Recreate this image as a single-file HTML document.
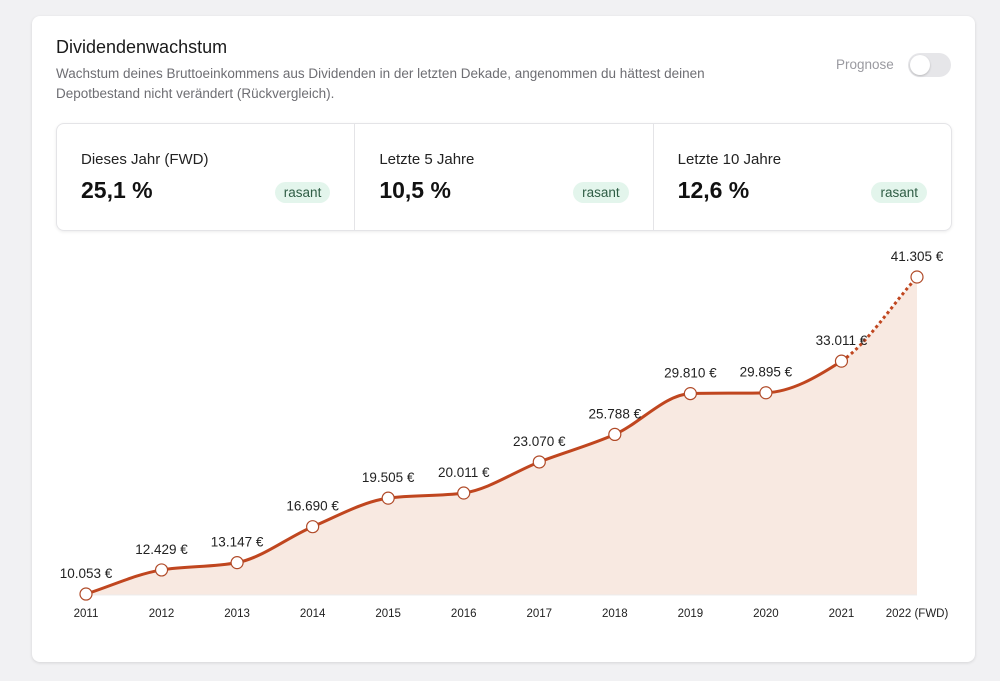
<!DOCTYPE html>
<html><head><meta charset="utf-8"><style>
body{margin:0;width:1000px;height:681px;background:#f1f1f3;font-family:"Liberation Sans",sans-serif;position:relative;overflow:hidden}
.card{position:absolute;left:32px;top:16px;width:943px;height:646px;background:#fff;border-radius:8px;box-shadow:0 1px 3px rgba(0,0,0,.12)}
.title{position:absolute;left:24px;top:21px;font-size:18px;color:#1a1a1a}
.sub{position:absolute;left:24px;top:48px;width:730px;font-size:13.5px;line-height:20px;color:#6e6e73}
.prog{position:absolute;left:804px;top:41px;font-size:13.5px;color:#9a9aa0}
.toggle{position:absolute;left:876px;top:37px;width:43px;height:24px;border-radius:12px;background:#e6e6e9}
.knob{position:absolute;left:2px;top:2px;width:20px;height:20px;border-radius:10px;background:#fff;box-shadow:0 1px 2px rgba(0,0,0,.2)}
.stats{position:absolute;left:24px;top:107px;width:894px;height:106px;border:1px solid #e4e4e7;border-radius:8px;box-shadow:0 1px 3px rgba(0,0,0,.08);display:flex}
.st{flex:1;position:relative;border-right:1px solid #e4e4e7}
.st:last-child{border-right:none}
.lab{position:absolute;left:24px;top:27px;font-size:15px;color:#222}
.val{position:absolute;left:24px;top:53px;font-size:23px;font-weight:bold;color:#111}
.badge{position:absolute;right:24px;top:58px;padding:3px 9px;border-radius:11px;background:#e3f5ec;color:#2f5d45;font-size:13.5px}
svg{position:absolute;left:0;top:0}
</style></head><body>
<div class="card">
<div class="title">Dividendenwachstum</div>
<div class="sub">Wachstum deines Bruttoeinkommens aus Dividenden in der letzten Dekade, angenommen du hättest deinen Depotbestand nicht verändert (Rückvergleich).</div>
<div class="prog">Prognose</div>
<div class="toggle"><div class="knob"></div></div>
<div class="stats">
<div class="st"><div class="lab">Dieses Jahr (FWD)</div><div class="val">25,1 %</div><div class="badge">rasant</div></div>
<div class="st"><div class="lab">Letzte 5 Jahre</div><div class="val">10,5 %</div><div class="badge">rasant</div></div>
<div class="st"><div class="lab">Letzte 10 Jahre</div><div class="val">12,6 %</div><div class="badge">rasant</div></div>
</div>
</div>
<svg id="chart" width="1000" height="681"></svg>
<script>
const categories=["2011","2012","2013","2014","2015","2016","2017","2018","2019","2020","2021","2022 (FWD)"];
const values=[10053,12429,13147,16690,19505,20011,23070,25788,29810,29895,33011,41305];
const valueLabels=["10.053 €","12.429 €","13.147 €","16.690 €","19.505 €","20.011 €","23.070 €","25.788 €","29.810 €","29.895 €","33.011 €","41.305 €"];
const NS="http://www.w3.org/2000/svg";
const svg=document.getElementById('chart');
const x0=86,x1=917,base=595;
const xs=i=>x0+(x1-x0)*i/(categories.length-1);
const ys=v=>696-v*0.010144;
function mk(t,a){const e=document.createElementNS(NS,t);for(const k in a)e.setAttribute(k,a[k]);svg.appendChild(e);return e;}
const P=values.map((v,i)=>[xs(i),ys(v)]);
const n=P.length,d=[],m=[];
for(let i=0;i<n-1;i++)d.push((P[i+1][1]-P[i][1])/(P[i+1][0]-P[i][0]));
for(let i=0;i<n;i++){if(i==0)m.push(d[0]);else if(i==n-1)m.push(d[n-2]);else m.push(d[i-1]*d[i]<=0?0:(3*(d[i-1]+d[i])/2)/(2+(d[i]/d[i-1]+d[i-1]/d[i])/2));}
function seg(i){const h=(P[i+1][0]-P[i][0])/3;return `C${P[i][0]+h},${P[i][1]+m[i]*h} ${P[i+1][0]-h},${P[i+1][1]-m[i+1]*h} ${P[i+1][0]},${P[i+1][1]}`;}
let solid=`M${P[0][0]},${P[0][1]}`;for(let i=0;i<n-2;i++)solid+=seg(i);
const dashed=`M${P[n-2][0]},${P[n-2][1]}`+seg(n-2);
let area=`M${P[0][0]},${base}L${P[0][0]},${P[0][1]}`;for(let i=0;i<n-1;i++)area+=seg(i);area+=`L${P[n-1][0]},${base}Z`;
const ar=mk('path',{d:area,fill:'#f8e9e1'});


const ax=mk('line',{x1:x0,x2:x1,y1:base,y2:base,stroke:'#ececec'});


const sl=mk('path',{d:solid,fill:'none',stroke:'#c0461f','stroke-width':3});


const dl=mk('path',{d:dashed,fill:'none',stroke:'#c0461f','stroke-width':3,'stroke-dasharray':'3 3'});


P.forEach((p,i)=>{
 const c=mk('circle',{cx:p[0],cy:p[1],r:6,fill:'#fff',stroke:'#b04a28','stroke-width':1.2});
 
 
 const t=mk('text',{x:p[0],y:p[1]-16,'text-anchor':'middle','font-size':13.5,fill:'#222','font-family':'Liberation Sans'});
 t.textContent=valueLabels[i];
 
 
 const tk=mk('text',{x:p[0],y:617,'text-anchor':'middle','font-size':11.5,fill:'#222','font-family':'Liberation Sans'});
 tk.textContent=categories[i];
 
 
});
</script>
</body></html>
